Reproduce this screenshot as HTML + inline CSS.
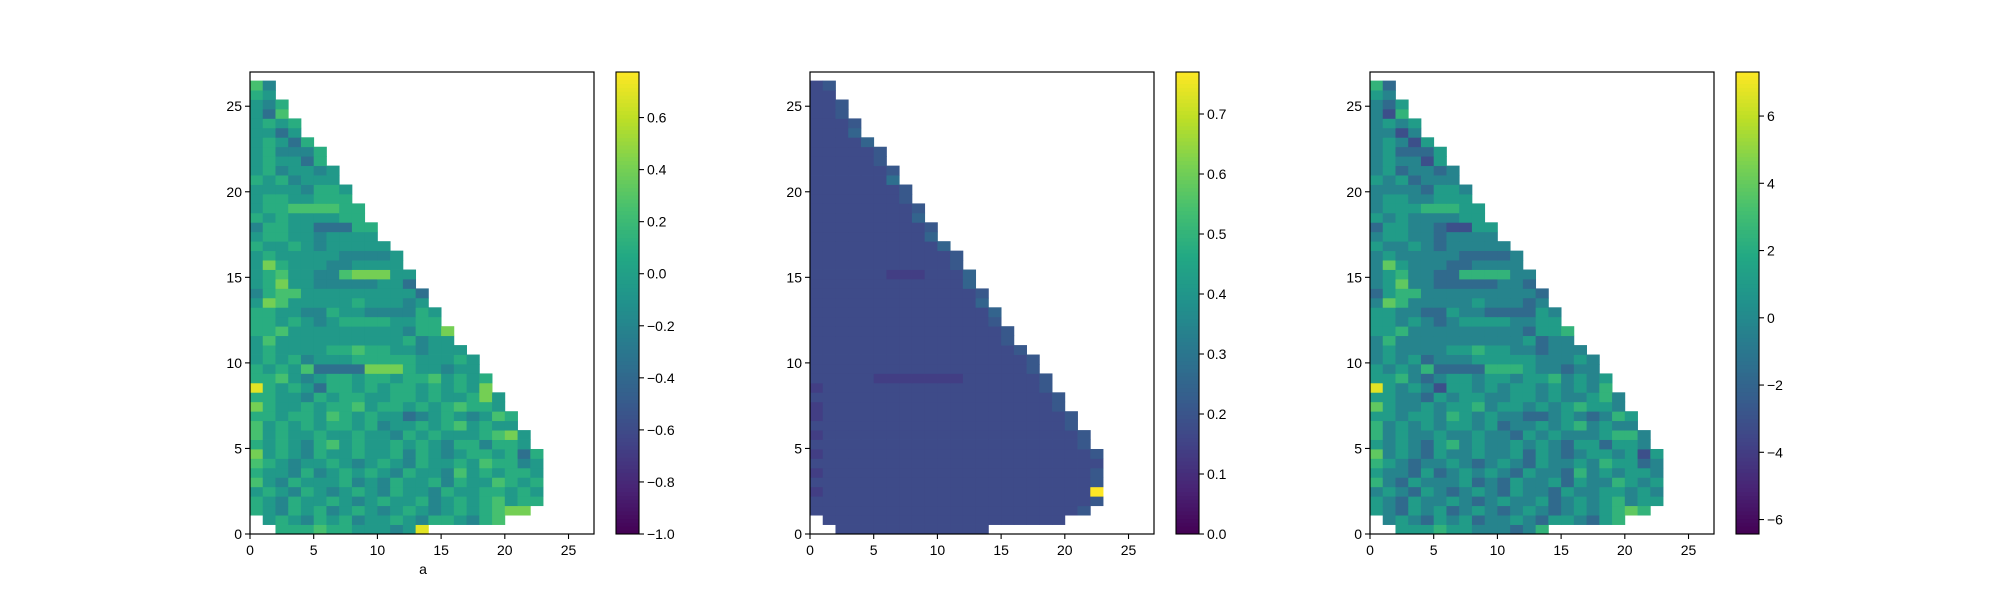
<!DOCTYPE html>
<html><head><meta charset="utf-8">
<style>
html,body{margin:0;padding:0;background:#fff;}
svg{display:block;font-family:"Liberation Sans","DejaVu Sans",sans-serif;}
</style></head>
<body>
<svg id="fig" width="2000" height="600" xmlns="http://www.w3.org/2000/svg"></svg>
<script>
// ---- data (row 0 = bottom, each char is a value level, '.' = empty) ----
const levels = "0123456789abcdefghijklmnopqrstuv";
const rowHeight = 0.552;
const xTicks = [0,5,10,15,20,25];
const yTicks = [0,5,10,15,20,25];
const p1Rows = [
"..66676655545a",".5654656455654665467","6546564565456545656788","65465565456556456567566",
"56546545654655465566565","75465556454655646557656","65546456565465547565665","76545565456546556576645",
"85654655655646545665636","6565467565565654664665","7565565565546565556785","756565665645565675655",
"665665765655345654576","86556566756656567665","66554656655665655685","a656536656566565658",
"6675456656656675656","656573333888655455","565645556666655565","56555566766554555",
"5755555555556455","6675555555554668","665654566665566","665544655444465",
"58755555655545","46775555555553","5685544444553","5675544788855",
"586555445555","565555544445","65565455555","5665545555",
"4665533366","656555566","566777766","56655666",
"55554665","6564555","5645545","565536",
"564446","56536","5535","5656","537","546","65","74"];
const p2Rows = [
"..555555555555",".5555555555555555555","5555555555555555555556","55555555555555555555556",
"4555555555555555555555v","55555555555555555555556","45555555555555555555556","55555555555555555555555",
"45555555555555555555556","5555555555555555555556","4555555555555555555556","555555555555555555556",
"455555555555555555556","45555555555555555556","55555555555555555556","4555555555555555556",
"5555544444445555556","555555555555555556","555555555555555556","55555555555555556",
"5555555555555556","5555555555555556","555555555555556","555555555555557",
"55555555555557","55555555555556","5555555555557","5555554445557",
"555555555556","555555555556","55555555557","5555555557",
"5555555556","555555557","555555556","55555556",
"55555556","5555558","5555556","555556",
"555556","55557","5557","5556","556","556","55","56"];
const p3Rows = [
"..666766555457",".5654656455654665467","6546564565456545656787","65465565456556456567566",
"56546545654655465566565","75465556454655646557656","65546456565465547565665","76545565456546556576645",
"85654655655646545665636","6565467565565654664665","7565565565546565556775","756565665645565675655",
"665665765655445654576","86556566756656567665","66554656655665655675","a656536656566565657",
"6675456656656675656","656574444777655455","565645556666655565","56555566766554555",
"5755555555556455","6675555555554667","665654566665566","665544655444465",
"58755555655545","46775555555554","5685544444554","5675544777755",
"586555445555","565555544445","65565455555","5665545555",
"4665543366","656555566","566677766","56655666",
"55554665","6564555","5645545","565536",
"564446","56536","5535","5656","537","546","65","74"];
const p1Scale = [-0.8, 0.15];
const p2Scale = [0, 0.035];
const p3Scale = [-7.3, 1.4];
const cb1Range = [-1.0, 0.775];
const cb2Range = [0, 0.77];
const cb3Range = [-6.43, 7.31];
const cb1Ticks = [-1.0,-0.8,-0.6,-0.4,-0.2,0.0,0.2,0.4,0.6];
const cb1Labels = ["\u22121.0","\u22120.8","\u22120.6","\u22120.4","\u22120.2","0.0","0.2","0.4","0.6"];
const cb2Ticks = [0.0,0.1,0.2,0.3,0.4,0.5,0.6,0.7];
const cb2Labels = ["0.0","0.1","0.2","0.3","0.4","0.5","0.6","0.7"];
const cb3Ticks = [-6,-4,-2,0,2,4,6];
const cb3Labels = ["\u22126","\u22124","\u22122","0","2","4","6"];

const NS="http://www.w3.org/2000/svg";
const svg=document.getElementById('fig');
const VIR=["#440154","#482475","#414487","#355f8d","#2a788e","#21918c","#22a884","#44bf70","#7ad151","#bddf26","#fde725"];
function hex(h){return [parseInt(h.slice(1,3),16),parseInt(h.slice(3,5),16),parseInt(h.slice(5,7),16)];}
function viridis(t){t=Math.max(0,Math.min(1,t));const f=t*10;const i=Math.min(9,Math.floor(f));const r=f-i;const a=hex(VIR[i]),b=hex(VIR[i+1]);
return "rgb("+a.map((v,k)=>Math.round(v+(b[k]-v)*r)).join(",")+")";}
function mk(tag,attrs,parent){const e=document.createElementNS(NS,tag);for(const k in attrs)e.setAttribute(k,attrs[k]);(parent||svg).appendChild(e);return e;}

const TOP=72, BOT=534, W=344;
function panel(L, rows, scale, range, cbL, cbTicks, cbLabels, idx){
  const g=mk('g',{});
  
  
  const sx=v=>L+v*(W/27), sy=v=>BOT-v*((BOT-TOP)/27);
  rows.forEach((s,r)=>{
    for(let c=0;c<s.length;c++){
      const ch=s[c]; if(ch==='.')continue;
      const val=scale[0]+scale[1]*levels.indexOf(ch);
      const t=(val-range[0])/(range[1]-range[0]);
      const x0=sx(c),x1=sx(c+1),y0=sy((r+1)*rowHeight),y1=sy(r*rowHeight);
      const cell=mk('rect',{x:x0.toFixed(2),y:y0.toFixed(2),width:(x1-x0+0.4).toFixed(2),height:(y1-y0+0.4).toFixed(2),fill:viridis(t)},g);
      
      
    }
  });
  const frame=mk('rect',{x:L,y:TOP,width:W,height:BOT-TOP,fill:'none',stroke:'#000','stroke-width':1.2},g);
  
  
  xTicks.forEach(v=>{const x=sx(v);mk('line',{x1:x,y1:BOT,x2:x,y2:BOT+5,stroke:'#000','stroke-width':1.1},g);
    const t=mk('text',{x:x,y:BOT+21,'font-size':14,'text-anchor':'middle'},g);t.textContent=v;
    
    });
  yTicks.forEach(v=>{const y=sy(v);mk('line',{x1:L-5,y1:y,x2:L,y2:y,stroke:'#000','stroke-width':1.1},g);
    const t=mk('text',{x:L-8,y:y+5,'font-size':14,'text-anchor':'end'},g);t.textContent=v;
    
    });
  const cb=mk('g',{});
  
  
  const n=120,h=(BOT-TOP)/n;
  for(let i=0;i<n;i++){mk('rect',{x:cbL,y:(BOT-(i+1)*h).toFixed(2),width:23,height:(h+0.5).toFixed(2),fill:viridis((i+0.5)/n)},cb);}
  mk('rect',{x:cbL,y:TOP,width:23,height:BOT-TOP,fill:'none',stroke:'#000','stroke-width':1.1},cb);
  cbTicks.forEach((v,i)=>{const y=BOT-(v-range[0])/(range[1]-range[0])*(BOT-TOP);
    mk('line',{x1:cbL+23,y1:y,x2:cbL+28,y2:y,stroke:'#000','stroke-width':1.1},cb);
    const t=mk('text',{x:cbL+31,y:y+5,'font-size':14},cb);t.textContent=cbLabels[i];
    
    });
}
panel(250,p1Rows,p1Scale,cb1Range,616,cb1Ticks,cb1Labels,1);
panel(810,p2Rows,p2Scale,cb2Range,1176,cb2Ticks,cb2Labels,2);
panel(1370,p3Rows,p3Scale,cb3Range,1736,cb3Ticks,cb3Labels,3);
const xl=mk('text',{x:423,y:574,'font-size':14,'text-anchor':'middle'});xl.textContent='a';


</script>
</body></html>
